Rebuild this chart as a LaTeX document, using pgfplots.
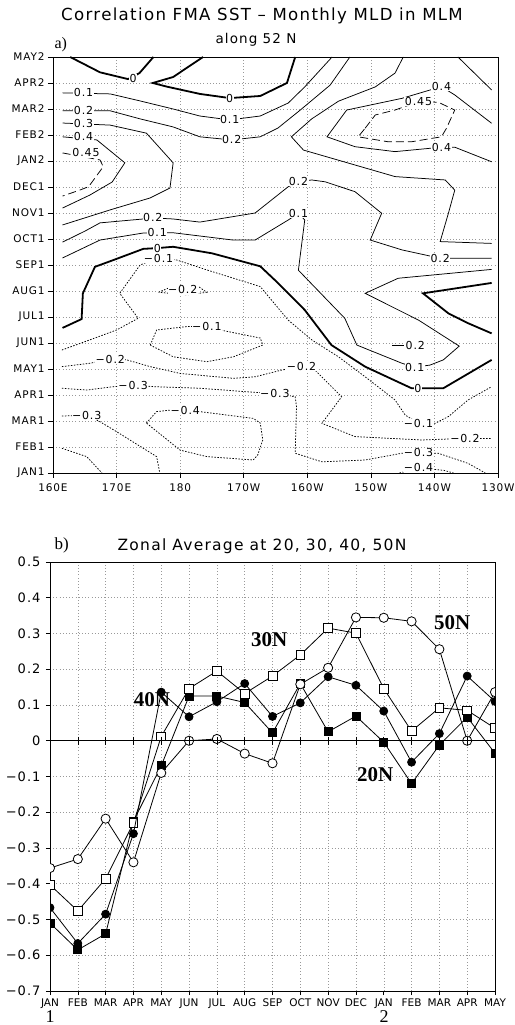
\documentclass[border=0pt]{standalone}
\usepackage{fontspec}
\setmainfont{DejaVu Sans}
\newfontfamily\gr{DejaVu Sans}[LetterSpace=8]
\newfontfamily\tnr{Liberation Serif}
\usepackage{pgfplots}
\usepackage{pgfplotstable}
\pgfplotsset{compat=1.18}

% zonal averages, month index 0 = JAN (year 1) ... 16 = MAY (year 2)
\pgfplotstableread{
m    n20     n30     n40     n50
0   -0.510  -0.403  -0.467  -0.356
1   -0.585  -0.476  -0.567  -0.331
2   -0.540  -0.386  -0.485  -0.218
3   -0.225  -0.230  -0.260  -0.340
4   -0.070   0.012   0.136  -0.090
5    0.125   0.146   0.067   0.000
6    0.125   0.195   0.109   0.005
7    0.107   0.132   0.160  -0.036
8    0.022   0.181   0.068  -0.063
9    0.160   0.240   0.106   0.158
10   0.025   0.315   0.179   0.204
11   0.069   0.301   0.155   0.345
12  -0.004   0.146   0.083   0.344
13  -0.120   0.027  -0.060   0.334
14  -0.012   0.092   0.020   0.256
15   0.066   0.085   0.181   0.000
16  -0.035   0.035   0.110   0.136
}\zonal

\pgfplotsset{
  cpos/.style={black, line width=0.75bp},
  czero/.style={black, line width=1.8bp},
  cneg/.style={black, line width=0.75bp, dash pattern=on 1.5bp off 1.5bp},
  cmax/.style={black, line width=0.75bp, dash pattern=on 8bp off 4bp},
}
\tikzset{lab/.style={font=\gr\fontsize{11bp}{11bp}\selectfont, fill=white, inner sep=0.5bp}}

\begin{document}
\begin{tikzpicture}
\path[use as bounding box] (0,0) rectangle (515bp,1025bp);

% ---------- a) contour panel ----------
\begin{axis}[
  at={(53bp,552bp)}, anchor=south west, scale only axis,
  width=445bp, height=416bp,
  xmin=160, xmax=230, ymin=0, ymax=16,
  xtick={160,170,...,230},
  xticklabels={160E,170E,180,170W,160W,150W,140W,130W},
  ytick={0,...,16},
  yticklabels={JAN1,FEB1,MAR1,APR1,MAY1,JUN1,JUL1,AUG1,SEP1,OCT1,NOV1,DEC1,JAN2,FEB2,MAR2,APR2,MAY2},
  tick pos=left, tick align=outside, major tick length=5bp,
  tick style={black, line width=0.6bp},
  ticklabel style={font=\gr\fontsize{10.5bp}{12bp}\selectfont},
  xticklabel style={yshift=-2bp},
  grid=major,
  major grid style={gray!80, line width=0.5bp, dash pattern=on 0.6bp off 2.6bp},
  axis line style={line width=0.9bp},
]
% zero contours
\addplot[czero] coordinates {(162.7,16) (167.4,15.41) (171.8,15.15) (173.6,15.38) (175.8,16)};
\addplot[czero] coordinates {(183.6,16) (178.9,15.23) (175.7,15.0) (177.9,14.86) (183.1,14.58) (187.8,14.42) (192.6,14.5) (196.8,15.0) (198.1,16)};
\addplot[czero] coordinates {(161.5,5.58) (164.5,5.92) (164.7,6.91) (166.6,7.93) (169.5,8.19) (174.2,8.62) (176.4,8.65) (178.9,8.70) (185,8.45) (192.6,7.95) (194.9,7.42) (199.6,6.27) (203.8,4.92) (209.1,4.09) (216.4,3.26) (221.4,3.26) (229,4.35)};
\addplot[czero] coordinates {(229,7.31) (218.2,6.91) (222.2,6.14) (225.3,5.76) (229,5.37)};
% positive contours
\addplot[cpos] coordinates {(161.5,14.62) (169.0,14.58) (173.7,14.31) (178.9,14.0) (183.1,13.73) (187.8,13.58) (192.6,13.73) (197.0,14.23) (199.6,14.85) (203.9,16)};
\addplot[cpos] coordinates {(161.5,13.93) (169.0,13.93) (173.7,13.62) (178.9,13.31) (183.1,12.93) (188.1,12.81) (192.6,12.93) (195.4,13.27) (198.9,13.96) (203.6,14.92) (206.7,16)};
\addplot[cpos] coordinates {(161.5,13.46) (169.0,13.38) (174.7,13.07) (178.9,11.93) (178.4,10.96) (175.3,10.58) (169.0,10.12) (161.5,9.54)};
\addplot[cpos] coordinates {(161.5,12.93) (166.9,12.81) (171.3,11.93) (169.3,11.19) (165.8,10.69) (161.5,10.19)};
\addplot[cmax] coordinates {(161.5,12.31) (167.4,12.04) (167.9,11.78) (165.6,11.01) (164.2,10.88) (161.5,10.65)};
\addplot[cpos] coordinates {(161.5,8.88) (165,9.3) (167.4,9.62) (174.2,9.77) (175.7,9.81) (178.9,9.77) (183.1,9.65) (191.8,10.0) (197.0,11.01) (198.6,11.2) (200.7,11.27) (202.8,11.2) (207.5,10.82) (211.7,9.99) (209.9,8.96) (214.9,8.58) (220.9,8.26) (229,8.26)};
\addplot[cpos] coordinates {(161.5,8.27) (167.4,8.96) (174.2,9.23) (176.4,9.24) (178.9,9.24) (188.3,8.96) (191.8,8.96) (197.0,9.73) (198.6,9.99) (199.6,9.73) (198.6,7.8) (205.9,5.95) (207.8,4.92) (214.9,4.22) (216.9,4.07) (219.3,4.15) (221.4,4.35) (223.9,4.88) (217.5,5.88) (209.1,6.91) (214.3,7.49) (229,7.83)};
\addplot[cpos] coordinates {(215.1,16) (213.8,15.38) (210.7,14.85) (204.9,14.3) (200.7,13.62) (197.5,12.93) (199.4,12.42) (213.8,11.4) (221.7,11.27) (223.2,10.88) (222.2,9.99) (220.9,8.9) (229,8.83)};
\addplot[cpos] coordinates {(229,13.45) (223.2,14.54) (221.1,14.86) (214.9,14.41) (206.2,13.96) (203.1,12.93) (207.5,12.55) (213.8,12.36) (221.1,12.53) (223.2,12.53) (229,11.97)};
\addplot[cmax] coordinates {(209.1,13.26) (210.7,13.77) (213.8,13.96) (217.5,14.28) (220.6,14.26) (223.2,13.96) (221.9,13.26) (221.1,12.93) (216.4,12.74) (212.7,12.74) (208.0,12.93) (209.1,13.26)};
\addplot[cpos] coordinates {(223.7,16) (229,14.73)};
\addplot[cpos] coordinates {(213.4,4.9) (215.2,4.9)};
% negative contours
\addplot[cneg] coordinates {(161.4,4.73) (165.8,5.12) (170.0,5.5) (173.4,5.95) (170.5,6.91) (173.7,8.0) (176.3,8.26) (179.5,8.19) (184.2,7.81) (192.6,7.17) (197.0,5.88) (200.7,5.12) (204.9,4.47) (209.1,3.70) (213.8,2.81) (215.4,2.23) (217.5,1.91) (220.1,1.91) (222.2,2.17) (225.3,2.81) (229,3.32)};
\addplot[cneg] coordinates {(175.3,4.92) (176.3,5.5) (181.0,5.63) (184.2,5.63) (186.3,5.5) (192.6,5.19) (193.0,4.92) (188.4,4.47) (184.2,4.28) (178.9,4.47) (175.3,4.92)};
\addplot[cneg] coordinates {(176.6,6.95) (179,7.2) (183,7.15) (184.2,6.95) (181,6.85) (176.6,6.95)};
\addplot[cneg] coordinates {(161.4,4.09) (165.8,4.22) (169.0,4.38) (171.6,4.35) (175.3,4.09) (180.0,3.83) (188.4,3.64) (191.8,3.70) (196.0,3.96) (199.1,4.09) (201.2,3.96) (205.4,2.93) (202.3,1.91) (207.5,1.40) (218.0,1.27) (224.8,1.33) (229,1.33)};
\addplot[cneg] coordinates {(161.4,3.26) (165.3,3.19) (169.5,3.32) (172.6,3.38) (175.8,3.32) (183.1,3.26) (191.8,3.1) (194.9,3.07) (198.1,2.93) (198.3,2.55) (198.1,0.76) (202.3,0.43) (209.1,0.5) (214.9,0.76) (217.5,0.78) (220.6,0.76) (225.3,0.37) (228,0)};
\addplot[cneg] coordinates {(161.4,2.19) (165.3,2.23) (167.4,1.97) (170.0,1.59) (176.3,0.63) (176.8,0)};
\addplot[cneg] coordinates {(161.4,0.95) (165.3,0.63) (167.7,0)};
\addplot[cneg] coordinates {(174.7,1.92) (176.3,2.36) (178.5,2.42) (180.8,2.42) (183.1,2.36) (191.5,2.1) (192.6,1.92) (193.0,1.27) (192.2,0.69) (191.5,0.5) (184.2,0.63) (180.0,0.88) (174.7,1.92)};
\addplot[cneg] coordinates {(214.5,0) (217.5,0.2) (221.5,0.1) (223,0)};
% contour labels
\node[lab] at (axis cs:172.6,15.18) {0};
\node[lab] at (axis cs:187.8,14.42) {0};
\node[lab] at (axis cs:176.4,8.65) {0};
\node[lab] at (axis cs:217.4,3.24) {0};
\node[lab] at (axis cs:164.8,14.62) {0.1};
\node[lab] at (axis cs:187.8,13.58) {0.1};
\node[lab] at (axis cs:164.8,13.93) {0.2};
\node[lab] at (axis cs:188.1,12.81) {0.2};
\node[lab] at (axis cs:164.8,13.46) {0.3};
\node[lab] at (axis cs:164.8,12.93) {0.4};
\node[lab] at (axis cs:165.2,12.31) {0.45};
\node[lab] at (axis cs:175.7,9.81) {0.2};
\node[lab] at (axis cs:198.6,11.2) {0.2};
\node[lab] at (axis cs:220.9,8.26) {0.2};
\node[lab] at (axis cs:176.4,9.24) {0.1};
\node[lab] at (axis cs:198.6,9.99) {0.1};
\node[lab] at (axis cs:216.9,4.07) {0.1};
\node[lab] at (axis cs:217.0,4.9) {0.2};
\node[lab] at (axis cs:221.1,14.86) {0.4};
\node[lab] at (axis cs:221.1,12.53) {0.4};
\node[lab] at (axis cs:217.5,14.28) {0.45};
\node[lab] at (axis cs:176.6,8.24) {−0.1};
\node[lab] at (axis cs:184.2,5.63) {−0.1};
\node[lab] at (axis cs:217.5,1.91) {−0.1};
\node[lab] at (axis cs:180.4,7.04) {−0.2};
\node[lab] at (axis cs:169.0,4.38) {−0.2};
\node[lab] at (axis cs:199.1,4.09) {−0.2};
\node[lab] at (axis cs:224.8,1.33) {−0.2};
\node[lab] at (axis cs:172.6,3.38) {−0.3};
\node[lab] at (axis cs:194.9,3.07) {−0.3};
\node[lab] at (axis cs:217.5,0.78) {−0.3};
\node[lab] at (axis cs:165.3,2.23) {−0.3};
\node[lab] at (axis cs:180.8,2.42) {−0.4};
\node[lab] at (axis cs:217.5,0.22) {−0.4};
\end{axis}

% ---------- b) zonal averages ----------
\begin{axis}[
  at={(50bp,34bp)}, anchor=south west, scale only axis,
  width=445bp, height=429bp,
  xmin=0, xmax=16, ymin=-0.7, ymax=0.5,
  xtick={0,...,16},
  xticklabels={JAN,FEB,MAR,APR,MAY,JUN,JUL,AUG,SEP,OCT,NOV,DEC,JAN,FEB,MAR,APR,MAY},
  ytick={-0.7,-0.6,-0.5,-0.4,-0.3,-0.2,-0.1,0,0.1,0.2,0.3,0.4,0.5},
  yticklabels={−0.7,−0.6,−0.5,−0.4,−0.3,−0.2,−0.1,0,0.1,0.2,0.3,0.4,0.5},
  tick pos=left, tick align=outside, major tick length=4bp,
  tick style={black, line width=0.6bp},
  xticklabel style={font=\fontsize{10.5bp}{12bp}\selectfont},
  yticklabel style={font=\gr\fontsize{13bp}{14bp}\selectfont, xshift=-2bp},
  grid=major,
  major grid style={gray!80, line width=0.5bp, dash pattern=on 0.6bp off 2.6bp},
  axis line style={line width=0.9bp},
  clip marker paths=true,
]
\addplot[black, line width=0.8bp, mark=square*, mark size=4bp, mark options={solid, fill=black}] table[x=m, y=n20] {\zonal};
\addplot[black, line width=0.8bp, mark=square*, mark size=4.4bp, mark options={solid, fill=white}] table[x=m, y=n30] {\zonal};
\addplot[black, line width=0.8bp, mark=*, mark size=4bp, mark options={solid, fill=black}] table[x=m, y=n40] {\zonal};
\addplot[black, line width=0.8bp, mark=*, mark size=4.6bp, mark options={solid, fill=white}] table[x=m, y=n50] {\zonal};
\addplot[black, line width=0.8bp, mark=|, mark size=4bp, mark options={line width=0.6bp}] coordinates {(0,0) (1,0) (2,0) (3,0) (4,0) (5,0) (6,0) (7,0) (8,0) (9,0) (10,0) (11,0) (12,0) (13,0) (14,0) (15,0) (16,0)};
\node[font=\tnr\bfseries\fontsize{21bp}{22bp}\selectfont] at (axis cs:7.88,0.282) {30N};
\node[font=\tnr\bfseries\fontsize{21bp}{22bp}\selectfont] at (axis cs:14.46,0.33) {50N};
\node[font=\tnr\bfseries\fontsize{21bp}{22bp}\selectfont] at (axis cs:3.67,0.114) {40N};
\node[font=\tnr\bfseries\fontsize{21bp}{22bp}\selectfont] at (axis cs:11.69,-0.096) {20N};
\end{axis}

% titles and year markers
\node[font=\gr\fontsize{16.6bp}{19bp}\selectfont] at (262bp,1009bp) {Correlation FMA SST – Monthly MLD in MLM};
\node[font=\gr\fontsize{13.5bp}{15bp}\selectfont] at (256bp,985bp) {along 52 N};
\node[font=\tnr\fontsize{16bp}{18bp}\selectfont, anchor=west] at (51bp,980bp) {a)};
\node[font=\tnr\fontsize{17bp}{18bp}\selectfont, anchor=west] at (51bp,480bp) {b)};
\node[font=\gr\fontsize{15.5bp}{17bp}\selectfont] at (262bp,479bp) {Zonal Average at 20, 30, 40, 50N};
\node[font=\tnr\fontsize{18bp}{18bp}\selectfont, inner sep=0pt, anchor=base] at (50bp,3bp) {1};
\node[font=\tnr\fontsize{18bp}{18bp}\selectfont, inner sep=0pt, anchor=base] at (384bp,3bp) {2};
\end{tikzpicture}
\end{document}
